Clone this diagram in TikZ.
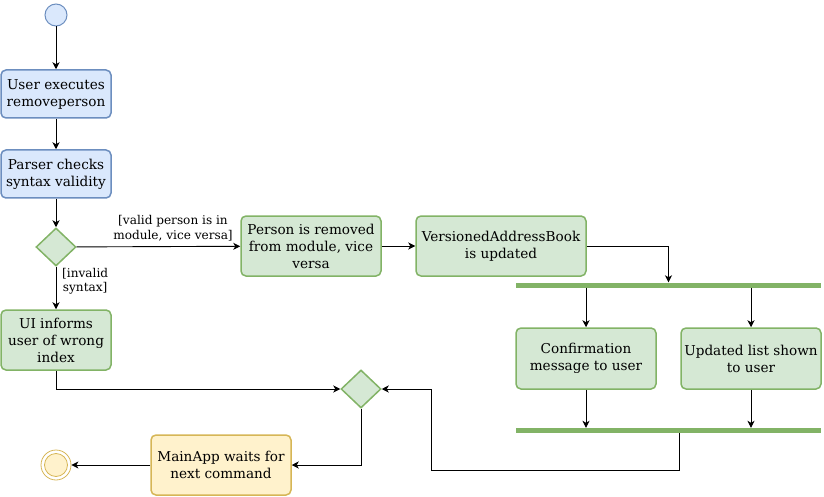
\documentclass[tikz,border=0pt]{standalone}
\usepackage{fontspec}
\setmainfont{DejaVu Serif}
\usetikzlibrary{shapes.geometric,arrows.meta}
\definecolor{bfill}{HTML}{DAE8FC}
\definecolor{bstroke}{HTML}{6C8EBF}
\definecolor{gfill}{HTML}{D5E8D4}
\definecolor{gstroke}{HTML}{82B366}
\definecolor{yfill}{HTML}{FFF2CC}
\definecolor{ystroke}{HTML}{D6B656}
\tikzset{
  act/.style={rectangle, rounded corners=5pt, line width=1.5pt, align=center, inner sep=0pt,
    font=\fontsize{13.6}{17}\selectfont},
  blueact/.style={act, draw=bstroke, fill=bfill},
  greenact/.style={act, draw=gstroke, fill=gfill},
  yellowact/.style={act, draw=ystroke, fill=yfill},
  decision/.style={diamond, draw=gstroke, fill=gfill, line width=1.5pt, inner sep=0pt, minimum width=40pt, minimum height=38pt},
  bar/.style={rectangle, fill=gstroke, inner sep=0pt, minimum width=305pt, minimum height=5pt},
  flow/.style={-{Stealth[length=7pt,width=7pt,inset=2pt]}, line width=0.9pt},
  guard/.style={font=\fontsize{12.1}{14.5}\selectfont, align=center, inner sep=0pt},
}
\begin{document}
\begin{tikzpicture}[x=1pt,y=-1pt]
\useasboundingbox (0,0) rectangle (824,497);
\node[circle, draw=bstroke, fill=bfill, line width=1pt, minimum size=22pt, inner sep=0pt] (start) at (56,15) {};
\node[blueact, minimum width=110pt, minimum height=48pt] (exec) at (56,94) {User executes\\removeperson};
\node[blueact, minimum width=110pt, minimum height=48pt] (parse) at (56,174) {Parser checks\\syntax validity};
\node[decision] (d1) at (56,247) {};
\node[greenact, minimum width=140pt, minimum height=60pt] (person) at (311,246) {Person is removed\\from module, vice\\versa};
\node[greenact, minimum width=170pt, minimum height=60pt] (vab) at (501,246) {VersionedAddressBook\\is updated};
\node[bar] (bar1) at (668.5,285) {};
\node[greenact, minimum width=140pt, minimum height=61pt] (conf) at (586,358.5) {Confirmation\\message to user};
\node[greenact, minimum width=140pt, minimum height=61pt] (upd) at (751,358.5) {Updated list shown\\to user};
\node[bar] (bar2) at (668.5,430.5) {};
\node[greenact, minimum width=110pt, minimum height=60pt] (ui) at (56,340) {UI informs\\user of wrong\\index};
\node[decision] (d2) at (361,389) {};
\node[yellowact, minimum width=140pt, minimum height=60pt] (main) at (221,465) {MainApp waits for\\next command};
\node[circle, draw=ystroke, line width=0.8pt, minimum size=30pt, inner sep=0pt] (end) at (56,465) {};
\node[circle, draw=ystroke, fill=yfill, line width=0.8pt, minimum size=23pt, inner sep=0pt] (endin) at (end.center) {};
\node[guard] (g1) at (173,228) {[valid person is in\\module, vice versa]};
\node[guard, anchor=west] (g2) at (62,281) {[invalid\\syntax]};
\coordinate (c1) at (679,470);
\coordinate (c2) at (431,470);
\coordinate (c3) at (431,389);
\draw[flow] (start) -- (exec);
\draw[flow] (exec) -- (parse);
\draw[flow] (parse) -- (d1);
\draw[flow] (d1) -- (person);
\draw[flow] (d1) -- (ui);
\draw[flow] (person) -- (vab);
\draw[flow] (vab.east) -| (bar1.north);
\draw[flow] (conf.north |- bar1.south) -- (conf.north);
\draw[flow] (upd.north |- bar1.south) -- (upd.north);
\draw[flow] (conf.south) -- (conf.south |- bar2.north);
\draw[flow] (upd.south) -- (upd.south |- bar2.north);
\draw[flow] (c1 |- bar2.south) -- (c1) -- (c2) -- (c3) -- (d2.east);
\draw[flow] (ui.south) |- (d2.west);
\draw[flow] (d2.south) |- (main.east);
\draw[flow] (main.west) -- (end);
\end{tikzpicture}
\end{document}
